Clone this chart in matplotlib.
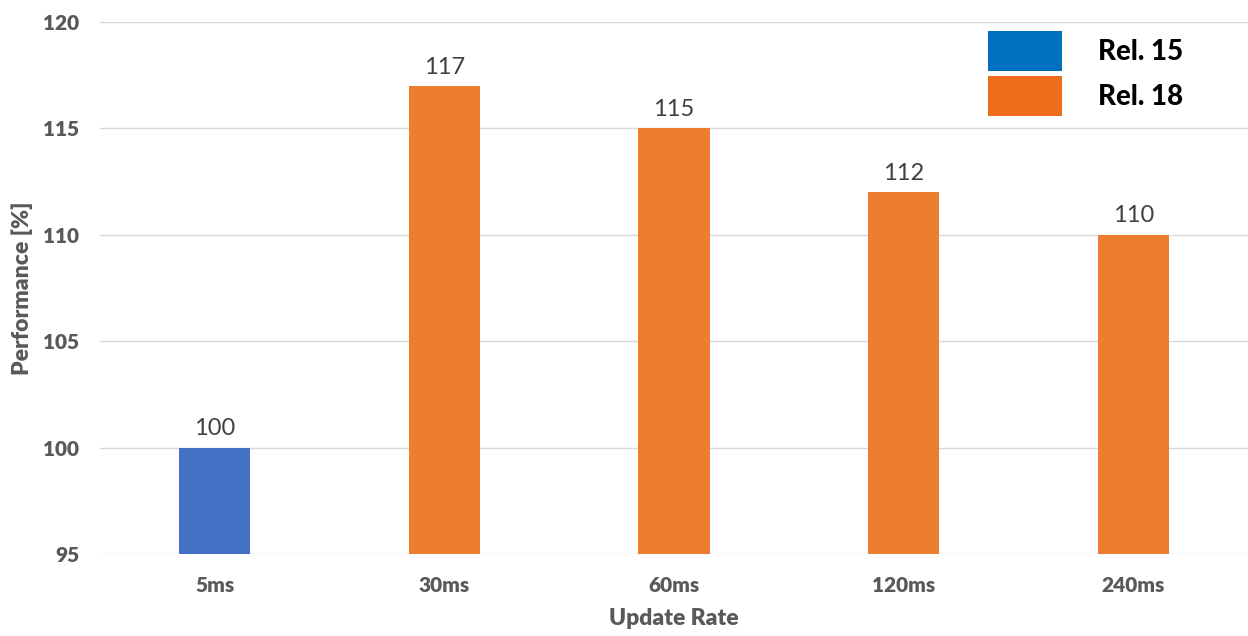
import matplotlib
matplotlib.use("Agg")
import matplotlib.pyplot as plt
from matplotlib.patches import Patch

# data
rates = ["5ms", "30ms", "60ms", "120ms", "240ms"]
performance = [100, 117, 115, 112, 110]
release = ["Rel. 15", "Rel. 18", "Rel. 18", "Rel. 18", "Rel. 18"]

bar_colors = {"Rel. 15": "#4472C4", "Rel. 18": "#ED7D31"}
legend_colors = {"Rel. 15": "#0070C0", "Rel. 18": "#ED6D1D"}

plt.rcParams["font.family"] = ["Lato", "DejaVu Sans"]

fig = plt.figure(figsize=(12.48, 6.36), dpi=100)
ax = fig.add_axes([100 / 1248, 1 - 554 / 636, 1 - 100 / 1248, 532 / 636])

x = range(len(rates))
bars = ax.bar(x, [p - 95 for p in performance], bottom=95, width=0.31,
              color=[bar_colors[r] for r in release], zorder=3)
ax.bar_label(bars, labels=[str(p) for p in performance], padding=6,
             fontsize=17, color="#404040")

ax.set_xlim(-0.5, len(rates) - 0.5)
ax.set_ylim(95, 120)
ax.set_yticks([95, 100, 105, 110, 115, 120])
ax.set_xticks(list(x))
ax.set_xticklabels(rates)
ax.grid(axis="y", color="#D9D9D9", linewidth=1, zorder=0)
ax.set_axisbelow(True)
for s in ax.spines.values():
    s.set_visible(False)
ax.tick_params(axis="both", length=0, labelsize=15, labelcolor="#595959")
ax.tick_params(axis="x", pad=16)
ax.tick_params(axis="y", pad=15)
for lbl in ax.get_xticklabels() + ax.get_yticklabels():
    lbl.set_fontweight("heavy")

ax.set_xlabel("Update Rate", fontsize=16.5, fontweight="heavy", color="#595959", labelpad=9)
ax.set_ylabel("Performance [%]", fontsize=16.5, fontweight="heavy", color="#595959", labelpad=7)

handles = [Patch(facecolor=legend_colors[k], edgecolor="none") for k in ["Rel. 15", "Rel. 18"]]
fig.legend(handles, ["Rel. 15", "Rel. 18"], loc="upper left",
           bbox_to_anchor=(988 / 1248, 1 - 31 / 636), frameon=False,
           prop={"size": 20, "weight": "black"}, handlelength=2.65, handleheight=1.85,
           handletextpad=1.3, labelspacing=0.18, borderpad=0, borderaxespad=0)

fig.savefig("out.png", dpi=100)
